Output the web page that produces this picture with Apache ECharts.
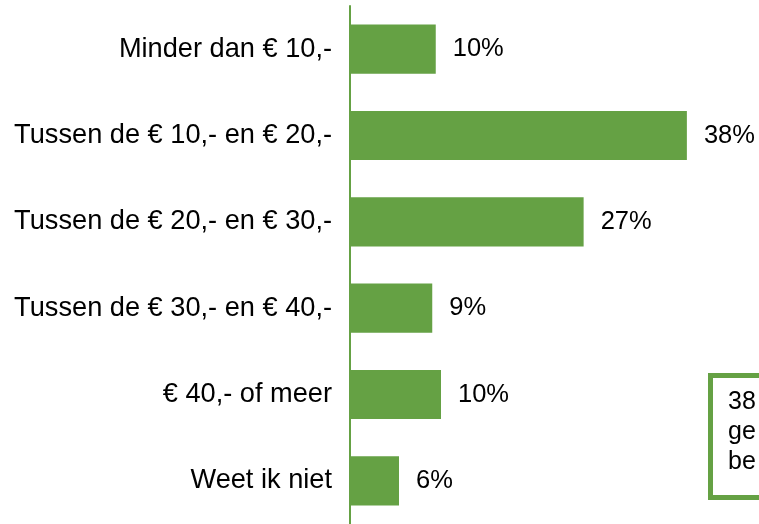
<!DOCTYPE html>
<html>
<head>
<meta charset="utf-8">
<script src="https://cdn.jsdelivr.net/npm/echarts@6/dist/echarts.min.js"></script>
<style>
  html, body { margin: 0; padding: 0; background: #fff; }
  #chart { width: 759px; height: 524px; }
</style>
</head>
<body>
<div id="chart"></div>
<script>
// categories top to bottom
const categories = [
  "Minder dan € 10,-",
  "Tussen de € 10,- en € 20,-",
  "Tussen de € 20,- en € 30,-",
  "Tussen de € 30,- en € 40,-",
  "€ 40,- of meer",
  "Weet ik niet"
];
const values = [9.8, 38.5, 26.7, 9.4, 10.4, 5.6];
const valueLabels = ["10%", "38%", "27%", "9%", "10%", "6%"];
const noteLines = ["38", "ge", "be"];

const green = "#65a144";
const font = "Liberation Sans, Arial, sans-serif";

let myChart = echarts.init(document.getElementById("chart"));
myChart.setOption({
  animation: false,
  grid: {
    left: 350,
    right: 59,
    top: 6,
    bottom: -2,
    containLabel: false
  },
  xAxis: {
    type: "value",
    min: 0,
    max: 40,
    show: false
  },
  yAxis: {
    type: "category",
    inverse: true,
    data: categories,
    axisLine: {
      lineStyle: { color: green, width: 2 }
    },
    axisTick: { show: false },
    axisLabel: {
      margin: 18,
      color: "#000",
      fontSize: 27.2,
      fontFamily: font,
      padding: [4, 0, 0, 0]
    }
  },
  series: [
    {
      type: "bar",
      data: values,
      barCategoryGap: "43%",
      itemStyle: { color: green },
      label: {
        show: true,
        position: "right",
        distance: 17,
        color: "#000",
        fontSize: 25.5,
        fontFamily: font,
        padding: [4, 0, 0, 0]
      ,
        formatter: (p) => valueLabels[p.dataIndex]
      }
    }
  ],
  graphic: [
    {
      type: "rect",
      left: 708,
      top: 373,
      shape: { width: 80, height: 122 },
      style: { fill: "#fff", stroke: green, lineWidth: 5 }
    },
    {
      type: "text",
      left: 728,
      top: 387,
      style: {
        text: noteLines.join("\n"),
        fill: "#000",
        fontSize: 25,
        lineHeight: 30,
        fontFamily: font
      }
    }
  ]
});
</script>
</body>
</html>
